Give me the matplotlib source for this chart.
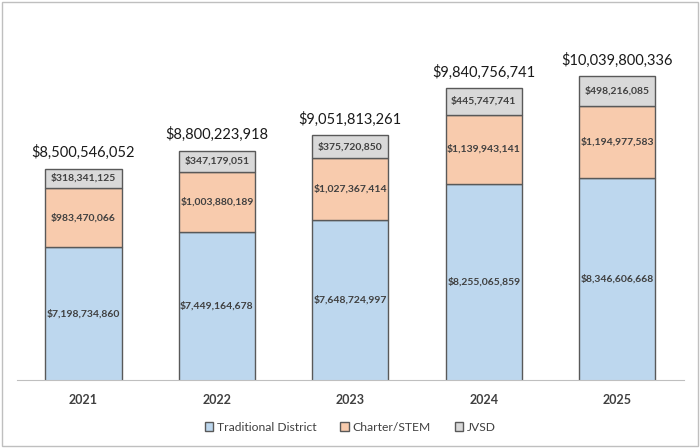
import numpy as np
import matplotlib.pyplot as plt
from matplotlib.patches import Rectangle

years = ['2021', '2022', '2023', '2024', '2025']
traditional = [7198734860, 7449164678, 7648724997, 8255065859, 8346606668]
charter = [983470066, 1003880189, 1027367414, 1139943141, 1194977583]
jvsd = [318341125, 347179051, 375720850, 445747741, 498216085]
totals = [8500546052, 8800223918, 9051813261, 9840756741, 10039800336]

plt.rcParams['font.family'] = ['Lato', 'DejaVu Sans']

fig = plt.figure(figsize=(7, 4.48), dpi=100)
ax = fig.add_axes([0.024, 0.152, 0.953, 0.808])

x = np.arange(len(years))
w = 0.57
edge = '#595959'
trad = np.array(traditional)
chart = np.array(charter)
jv = np.array(jvsd)

ax.bar(x, trad, w, color='#BDD7EE', edgecolor=edge, linewidth=1, label='Traditional District')
ax.bar(x, chart, w, bottom=trad, color='#F8CBAD', edgecolor=edge, linewidth=1, label='Charter/STEM')
ax.bar(x, jv, w, bottom=trad + chart, color='#D9D9D9', edgecolor=edge, linewidth=1, label='JVSD')

lo = 5e9
for i in range(len(years)):
    ax.text(x[i], (lo + trad[i]) / 2, f'${traditional[i]:,}', ha='center', va='center',
            fontsize=7.5, fontweight='bold', color='#404040')
    ax.text(x[i], trad[i] + chart[i] / 2, f'${charter[i]:,}', ha='center', va='center',
            fontsize=7.5, fontweight='bold', color='#404040')
    ax.text(x[i], trad[i] + chart[i] + jv[i] / 2, f'${jvsd[i]:,}', ha='center', va='center',
            fontsize=7.5, fontweight='bold', color='#404040')
    ax.text(x[i], totals[i] + 0.14e9, f'${totals[i]:,}', ha='center', va='bottom',
            fontsize=10.5, color='#1a1a1a')

ax.set_ylim(lo, 11e9)
ax.set_xlim(-0.5, len(years) - 0.5)
ax.set_xticks(x)
ax.set_xticklabels(years, fontsize=9, fontweight='bold', color='#404040')
ax.tick_params(axis='x', length=0, pad=10)
ax.set_yticks([])
for s in ['top', 'right', 'left']:
    ax.spines[s].set_visible(False)
ax.spines['bottom'].set_color('#BFBFBF')

ax.legend(loc='upper center', bbox_to_anchor=(0.5, -0.085), ncol=3, frameon=False,
          fontsize=8.7, handlelength=0.7, handleheight=0.7, columnspacing=2.0,
          handletextpad=0.3, labelcolor='#404040')

fig.patches.append(Rectangle((0.003, 0.004), 0.994, 0.992, transform=fig.transFigure,
                             fill=False, edgecolor='#BFBFBF', linewidth=1))

fig.savefig('out.png', dpi=100)
